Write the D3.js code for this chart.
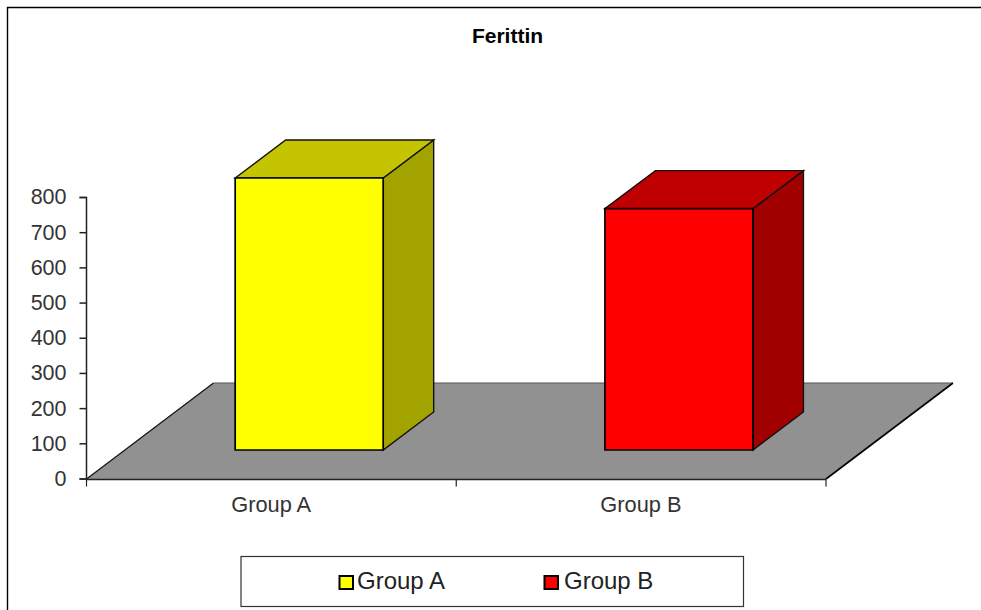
<!DOCTYPE html>
<html>
<head>
<meta charset="utf-8">
<script src="https://cdn.jsdelivr.net/npm/d3@7"></script>
<style>
html,body{margin:0;padding:0;background:#fff;overflow:hidden}
svg{display:block}
text{font-family:"Liberation Sans",Arial,sans-serif}
</style>
</head>
<body>
<svg id="chart" width="981" height="610"></svg>
<script>
const chartTitle = "Ferittin";
const categories = ["Group A", "Group B"];
const values = [773, 686];
const frontColors = ["#ffff00", "#ff0000"];
const topColors = ["#c4c400", "#c00000"];
const sideColors = ["#a3a300", "#a00000"];
const yTicks = [0, 100, 200, 300, 400, 500, 600, 700, 800];

const svg = d3.select("#chart");

// Frame: only the top and left edges are visible
svg.append("path").attr("d", "M7.5,610V7.5H981").attr("fill", "none").attr("stroke", "#000").attr("stroke-width", 1.4);

const y = d3.scaleLinear().domain([0, 800]).range([479, 197.5]);
const x = d3.scaleBand().domain(categories).range([86.5, 826]);

// 3D projection offsets
const floorDx = 127, floorDy = -96;
const barDx = 50.5, barDy = -38;
const frontShiftX = 38.3, frontShiftY = -29;   // bars stand back from the floor's front edge
const barW = 148;

// Floor
const floor = d3.path();
floor.moveTo(x.range()[0], y(0));
floor.lineTo(x.range()[0] + floorDx, y(0) + floorDy);
floor.lineTo(x.range()[1] + floorDx, y(0) + floorDy);
floor.lineTo(x.range()[1], y(0));
floor.closePath();
svg.append("path").attr("d", floor.toString()).attr("fill", "#919191").attr("stroke", "none");
svg.append("path")
  .attr("d", `M${x.range()[0]},${y(0)}L${x.range()[0] + floorDx},${y(0) + floorDy}`)
  .attr("stroke", "#111").attr("stroke-width", 1.2).attr("fill", "none");
svg.append("path")
  .attr("d", `M${x.range()[0] + floorDx},${y(0) + floorDy}H${x.range()[1] + floorDx}`)
  .attr("stroke", "#555").attr("stroke-width", 1.2).attr("fill", "none");
svg.append("path")
  .attr("d", `M${x.range()[1] + floorDx},${y(0) + floorDy}L${x.range()[1]},${y(0)}`)
  .attr("stroke", "#000").attr("stroke-width", 1.6).attr("fill", "none");

// Bars
const bars = svg.selectAll("g.bar").data(categories).join("g").attr("class", "bar");
const geom = (c, i) => {
  const cx = x(c) + x.bandwidth() / 2 + frontShiftX;
  return { l: cx - barW / 2 - 0.5, r: cx + barW / 2 - 0.5, t: y(values[i]) + frontShiftY, b: y(0) + frontShiftY };
};
bars.append("path") // side
  .attr("d", (c, i) => { const g = geom(c, i);
    return `M${g.r},${g.t}L${g.r + barDx},${g.t + barDy}V${g.b + barDy}L${g.r},${g.b}Z`; })
  .attr("fill", (c, i) => sideColors[i]).attr("stroke", "#111").attr("stroke-width", 1.4);
bars.append("path") // top
  .attr("d", (c, i) => { const g = geom(c, i);
    return `M${g.l},${g.t}L${g.l + barDx},${g.t + barDy}H${g.r + barDx}L${g.r},${g.t}Z`; })
  .attr("fill", (c, i) => topColors[i]).attr("stroke", "#111").attr("stroke-width", 1.4);
bars.append("path") // front
  .attr("d", (c, i) => { const g = geom(c, i);
    return `M${g.l},${g.t}H${g.r}V${g.b}H${g.l}Z`; })
  .attr("fill", (c, i) => frontColors[i]).attr("stroke", "#000").attr("stroke-width", 1.7);

// Axes
const yAxis = d3.axisLeft(y).tickValues(yTicks).tickSize(7).tickPadding(13).offset(0);
const gy = svg.append("g").attr("transform", "translate(86.5,0)").call(yAxis);
gy.selectAll("path,line").attr("stroke", "#222").attr("stroke-width", 1.5);
gy.selectAll("text").attr("font-size", 21.5).attr("fill", "#333").attr("font-family", '"Liberation Sans",Arial,sans-serif');

// Category axis: ticks fall on the band edges
const xEdges = [x.range()[0], x(categories[1]), x.range()[1]];
const xEdge = d3.scaleIdentity().domain(x.range());
const gx = svg.append("g").attr("transform", "translate(0,479.5)")
  .call(d3.axisBottom(xEdge).tickValues(xEdges).tickSize(7).tickSizeOuter(0).tickFormat("").offset(0));
gx.selectAll("path").attr("stroke", "#222").attr("stroke-width", 1.7);
gx.selectAll("line").attr("stroke", "#222").attr("stroke-width", 1.2);

// Category labels centred under each band
svg.selectAll("text.cat").data(categories).join("text").attr("class", "cat")
  .attr("x", c => x(c) + x.bandwidth() / 2 - 0.2)
  .attr("y", 512)
  .attr("text-anchor", "middle")
  .attr("font-size", 21.8).attr("fill", "#333")
  .text(c => c);

// Title
svg.append("text").attr("x", 507.5).attr("y", 43).attr("text-anchor", "middle")
  .attr("font-size", 21).attr("font-weight", "bold").attr("fill", "#000").text(chartTitle);

// Legend
svg.append("rect").attr("x", 241).attr("y", 556.5).attr("width", 502.5).attr("height", 50)
  .attr("fill", "#fff").attr("stroke", "#333").attr("stroke-width", 1.2);
const legendX = [339.5, 544.5];
const lg = svg.selectAll("g.leg").data(categories).join("g").attr("class", "leg")
  .attr("transform", (c, i) => `translate(${legendX[i]},576)`);
lg.append("rect").attr("width", 13.5).attr("height", 13)
  .attr("fill", (c, i) => frontColors[i]).attr("stroke", "#000").attr("stroke-width", 2);
lg.append("text").attr("x", (c, i) => i ? 19.5 : 17.5).attr("y", 13).attr("font-size", 24).attr("fill", "#222").text(c => c);
</script>
</body>
</html>
